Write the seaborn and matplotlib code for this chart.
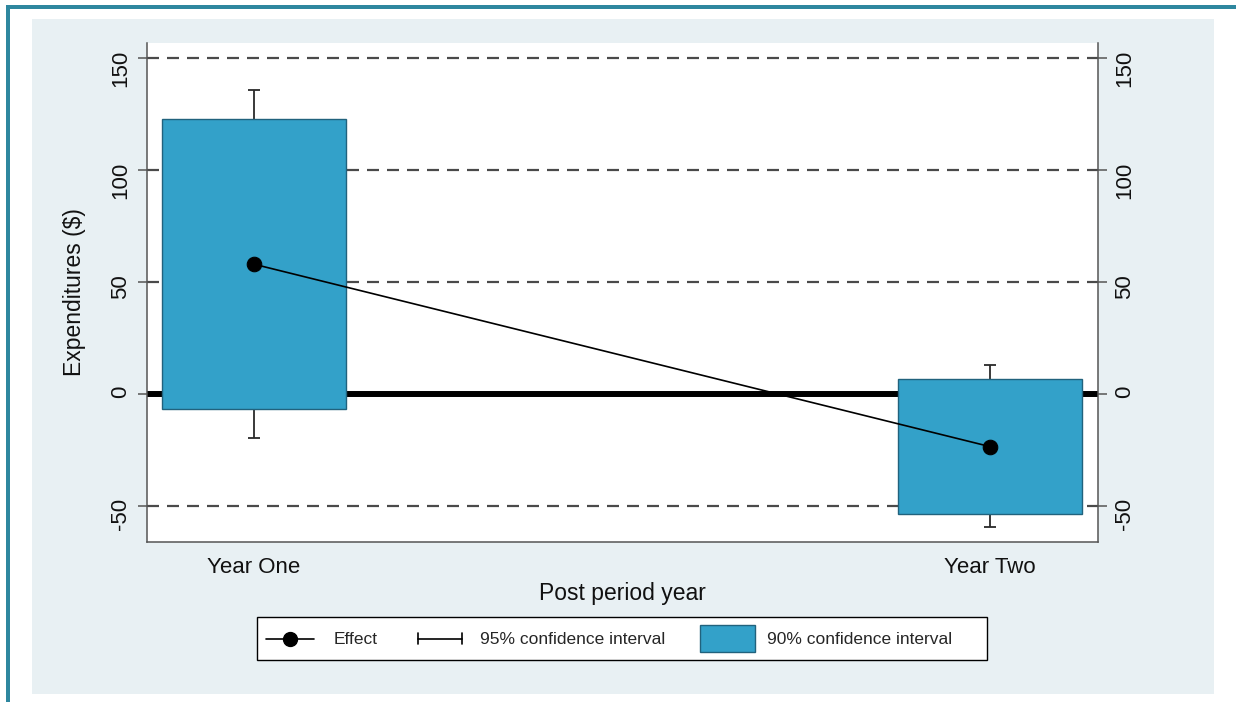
import matplotlib
matplotlib.use("Agg")
import matplotlib.pyplot as plt
import seaborn as sns
from matplotlib.patches import Rectangle
from matplotlib.lines import Line2D
from matplotlib.legend_handler import HandlerBase

# Treatment effect on expenditures by post-period year
years = ["Year One", "Year Two"]
effect = [58.0, -23.4]
ci90_low = [-6.7, -53.3]
ci90_high = [122.8, 6.7]
ci95_low = [-19.6, -59.2]
ci95_high = [135.7, 12.9]
y_ticks = [-50, 0, 50, 100, 150]

BAR_COLOR = "#33a1c9"
BAR_EDGE = "#21627d"
AXIS_GRAY = "#555555"

sns.set_style("white")
plt.rcParams["font.family"] = ["Liberation Sans", "DejaVu Sans"]
plt.rcParams["axes.unicode_minus"] = False

W, H = 1236, 702
fig = plt.figure(figsize=(W / 100, H / 100), dpi=100)
fig.patch.set_facecolor("white")


def page_rect(x0, y0, x1, y1, face, edge="none", lw=0, z=-2):
    fig.add_artist(Rectangle((x0 / W, 1 - y1 / H), (x1 - x0) / W, (y1 - y0) / H,
                             transform=fig.transFigure, facecolor=face,
                             edgecolor=edge, linewidth=lw, zorder=z))


# frame and graph region background
page_rect(6, 5, W, 8.5, "#2e879f")
page_rect(6, 5, 10, H, "#2e879f")
page_rect(32, 19, 1214, 694, "#e8f0f3")

ax = fig.add_axes([147 / W, 1 - 542 / H, (1098 - 147) / W, (542 - 43) / H])
ax.set_facecolor("white")

pos = list(range(len(years)))

# reference lines
for v in y_ticks:
    if v == 0:
        ax.axhline(v, color="black", lw=4.3, zorder=1)
    else:
        ax.axhline(v, color="#4a4a4a", lw=1.6, dashes=(5.4, 3.6), zorder=1)

# 95% CI whiskers (drawn under the 90% boxes)
yerr = [[e - lo for e, lo in zip(effect, ci95_low)],
        [hi - e for e, hi in zip(effect, ci95_high)]]
ax.errorbar(pos, effect, yerr=yerr, fmt="none", ecolor="#2a2a2a",
            elinewidth=1.3, capsize=4, capthick=1.3, zorder=2)

# 90% CI boxes
ax.bar(pos, [hi - lo for hi, lo in zip(ci90_high, ci90_low)], bottom=ci90_low,
       width=0.25, color=BAR_COLOR, edgecolor=BAR_EDGE, linewidth=1.0, zorder=3)

# point estimates
sns.lineplot(x=pos, y=effect, ax=ax, color="black", marker="o", markersize=10.5,
             markeredgecolor="black", lw=1.2, sort=False, zorder=4)

ax.set_xlim(-0.145, 1.147)
ax.set_ylim(-66, 156.7)
ax.set_xticks(pos, years)
ax.set_yticks(y_ticks)

ax.tick_params(axis="both", direction="out", length=6.5, width=1.1,
               color=AXIS_GRAY, labelsize=16, labelcolor="#111111")
ax.tick_params(axis="x", pad=4)
ax.tick_params(axis="y", left=True, right=True, labelleft=True, labelright=True,
               labelrotation=90, pad=5)

for side in ["left", "right", "bottom"]:
    ax.spines[side].set_color(AXIS_GRAY)
    ax.spines[side].set_linewidth(1.1)
ax.spines["top"].set_visible(False)

ax.set_ylabel("Expenditures ($)", fontsize=16.5, labelpad=17, color="#111111")
ax.set_xlabel("Post period year", fontsize=16.5, labelpad=3, color="#111111")


class CapHandler(HandlerBase):
    """Horizontal line with end caps for the CI legend key."""

    def create_artists(self, legend, orig_handle, xdescent, ydescent,
                       width, height, fontsize, trans):
        y = height / 2 - ydescent
        x0 = -xdescent + 0.1 * width
        x1 = -xdescent + 0.9 * width
        h = 0.2 * height
        arts = [Line2D([x0, x1], [y, y], color="black", lw=1.2),
                Line2D([x0, x0], [y - h, y + h], color="black", lw=1.2),
                Line2D([x1, x1], [y - h, y + h], color="black", lw=1.2)]
        for a in arts:
            a.set_transform(trans)
        return arts


class MarkerLineHandler(HandlerBase):
    """Line with a centred dot for the point-estimate legend key."""

    def create_artists(self, legend, orig_handle, xdescent, ydescent,
                       width, height, fontsize, trans):
        y = height / 2 - ydescent
        x0 = -xdescent
        x1 = -xdescent + 0.88 * width
        line = Line2D([x0, x1], [y, y], color="black", lw=1.2)
        dot = Line2D([(x0 + x1) / 2], [y], color="black", marker="o",
                     markersize=10, linestyle="none")
        for a in (line, dot):
            a.set_transform(trans)
        return [line, dot]


eff_h = Line2D([], [], color="black", marker="o")
ci95_h = Line2D([], [], color="black")
ci90_h = Rectangle((0, 0), 1, 1, facecolor=BAR_COLOR, edgecolor=BAR_EDGE, lw=1.0)

# legend frame
page_rect(257, 617, 987, 660, "white", edge="black", lw=1.0, z=1)

leg = fig.legend([eff_h, ci95_h, ci90_h],
                 ["Effect", "95% confidence interval", "90% confidence interval"],
                 handler_map={ci95_h: CapHandler(), eff_h: MarkerLineHandler()},
                 loc="center", bbox_to_anchor=(609 / W, 1 - 638.5 / H),
                 ncol=3, frameon=False, fontsize=12.5, handlelength=3.2,
                 handleheight=2.0, columnspacing=2.0, handletextpad=0.7,
                 borderpad=0.0, borderaxespad=0)
leg.set_zorder(2)

fig.savefig("out.png", dpi=100)
